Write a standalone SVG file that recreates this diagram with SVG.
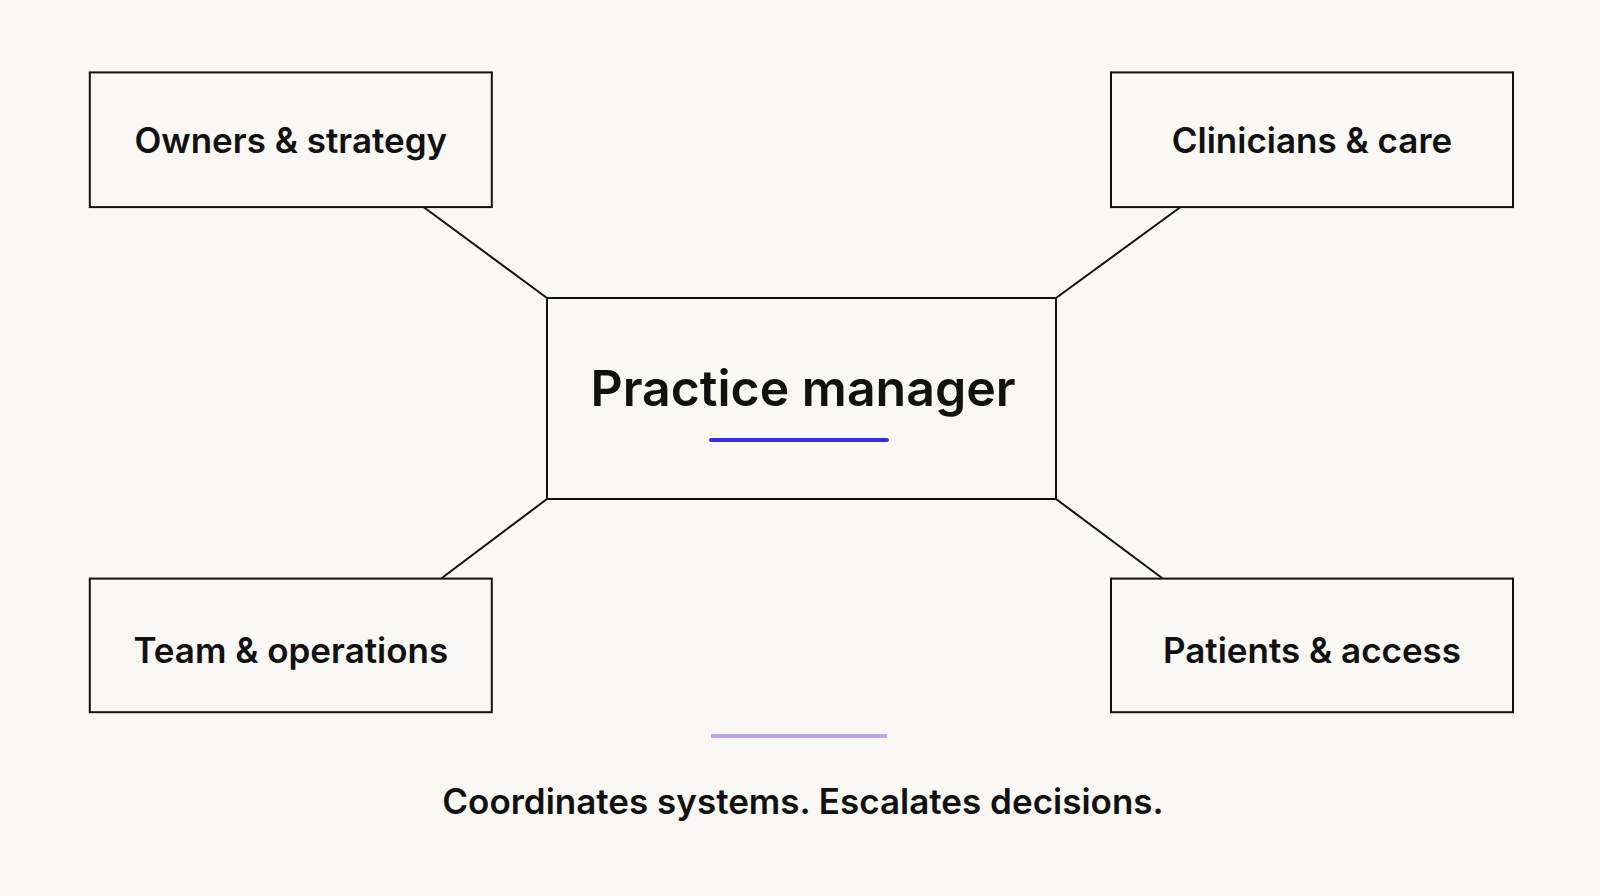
<svg xmlns="http://www.w3.org/2000/svg" width="1600" height="896" viewBox="0 0 1600 896">
<style>
.box{fill:#f9f8f5;stroke:#111;stroke-width:2}
.lbl{font-family:Inter,"Noto Sans",sans-serif;font-weight:600;font-size:35px;fill:#111;text-anchor:middle;dominant-baseline:central}
.conn line{stroke:#111;stroke-width:2}
</style>
<rect width="1600" height="896" fill="#f9f8f5"/>
<g class="conn" id="connectors">
<line x1="423.5" y1="207" x2="547" y2="298"/>
<line x1="1180.6" y1="207" x2="1056" y2="298"/>
<line x1="441.8" y1="578" x2="547" y2="499"/>
<line x1="1162" y1="578" x2="1056" y2="499"/>
</g>
<g id="owners"><rect class="box" x="89.8" y="72.4" width="402" height="134.7"/><text class="lbl" x="290.8" y="139.8">Owners &amp; strategy</text></g>
<g id="clinicians"><rect class="box" x="1111" y="72.4" width="402" height="134.7"/><text class="lbl" x="1312" y="139.8">Clinicians &amp; care</text></g>
<g id="team"><rect class="box" x="89.8" y="578.6" width="402" height="133.6"/><text class="lbl" x="290.8" y="649.5">Team &amp; operations</text></g>
<g id="patients"><rect class="box" x="1111" y="578.6" width="402" height="133.6"/><text class="lbl" x="1312" y="649.5">Patients &amp; access</text></g>
<g id="manager"><rect class="box" x="547" y="298" width="509" height="201"/><text class="lbl" x="803" y="388" style="font-size:50px">Practice manager</text>
<line x1="711" y1="440" x2="887" y2="440" stroke="#3b2fd6" stroke-width="4" stroke-linecap="round"/></g>
<line x1="711" y1="736" x2="887" y2="736" stroke="#c4a3f2" stroke-width="4"/>
<text class="lbl" x="803" y="801" style="font-size:35px">Coordinates systems. Escalates decisions.</text>
</svg>
